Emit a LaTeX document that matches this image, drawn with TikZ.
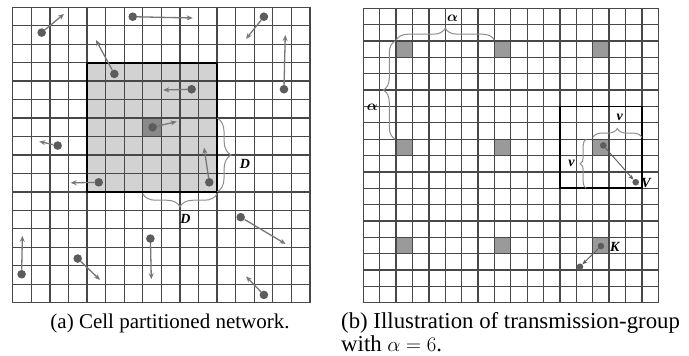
\documentclass[tikz,border=0pt]{standalone}
\usepackage{fontspec}
\setmainfont{Liberation Serif}
\usepackage{amsmath,bm}
\usetikzlibrary{decorations.pathreplacing,arrows.meta}

\definecolor{gridcol}{HTML}{484848}
\definecolor{zonecol}{HTML}{D2D2D2}
\definecolor{homecol}{HTML}{8A8A8A}
\definecolor{groupcol}{HTML}{9A9A9A}
\definecolor{dotcol}{HTML}{5C5C5C}
\definecolor{movecol}{HTML}{777777}
\definecolor{bracecol}{HTML}{8C8C8C}

\tikzset{
  gridlines/.style={draw=gridcol, line width=1.35pt},
  boldframe/.style={draw=black, line width=1.8pt},
  dot/.style={circle, fill=dotcol, inner sep=0pt, minimum size=8.6pt},
  smalldot/.style={circle, fill=dotcol, inner sep=0pt, minimum size=6.6pt},
  move/.style={draw=movecol, line width=1.3pt, -{Stealth[length=6pt,width=5pt]}},
  thinmove/.style={draw=dotcol, line width=0.9pt, -{Stealth[length=5pt,width=4pt]}},
  curly/.style={draw=bracecol, line width=1pt, decorate, decoration={brace, amplitude=#1}},
  lbl/.style={font=\fontsize{14}{14}\selectfont\bfseries\itshape, inner sep=0pt},
  mlbl/.style={font=\fontsize{14}{14}\selectfont, inner sep=0pt},
  caption/.style={font=\fontsize{#1}{23}\selectfont, inner sep=0pt}
}

\begin{document}
\begin{tikzpicture}[x=1pt, y=-1pt]
\useasboundingbox (0,0) rectangle (689,356);

% ---------- (a) cell partitioned network ----------
\begin{scope}[shift={(12.7pt,-7.3pt)}, x=18.58pt, y=-18.46pt]
  \fill[zonecol] (4,3) rectangle (11,10);
  \fill[homecol] (7,6) rectangle (8,7);
  \foreach \i in {0,...,16} {
    \draw[gridlines] (\i,0) -- (\i,16);
    \draw[gridlines] (0,\i) -- (16,\i);
  }
  \draw[boldframe] (4,3) rectangle (11,10);

  % mobile nodes and their moves
  \foreach \n/\x/\y/\tx/\ty in {
      a1/1.56/1.37/2.76/0.36,
      a2/6.46/0.51/9.69/0.58,
      a3/13.52/0.51/12.56/1.71,
      a4/5.47/3.61/4.48/1.77,
      a5/14.6/4.44/14.67/1.5,
      a6/9.63/4.44/8.1/4.48,
      a7/7.53/6.5/8.83/6.19,
      a8/2.42/7.49/1.43/7.27,
      a9/10.58/9.48/10.3/7.6,
      a10/4.63/9.48/3.12/9.51,
      a11/12.27/11.37/14.69/12.82,
      a12/7.41/12.53/7.46/14.73,
      a13/0.48/14.46/0.52/12.38,
      a14/3.5/13.61/4.7/14.77,
      a15/13.52/15.58/12.56/14.58} {
    \node[dot] (\n) at (\x,\y) {};
    \coordinate (\n t) at (\tx,\ty);
    \draw[move] (\n) -- (\n t);
  }

  % range braces
  \coordinate (bra1) at (11,6);
  \coordinate (bra2) at (11,10);
  \draw[curly=14pt] (bra1) -- (bra2);
  \node[lbl] (labDa) at (12.5,8.5) {D};
  \coordinate (brb1) at (11,10.1);
  \coordinate (brb2) at (7,10.1);
  \draw[curly=13pt] (brb1) -- (brb2);
  \node[lbl] (labDb) at (9.3,11.45) {D};
\end{scope}

% ---------- (b) transmission groups ----------
\begin{scope}[shift={(363.3pt,-8.3pt)}, x=16.39pt, y=-16.36pt]
  \foreach \cx in {2,8,14} \foreach \cy in {2,8,14}
    \fill[groupcol] (\cx,\cy) rectangle ++(1,1);
  \foreach \i in {0,...,18} {
    \draw[gridlines] (\i,0) -- (\i,18);
    \draw[gridlines] (0,\i) -- (18,\i);
  }
  \draw[boldframe] (12,6) rectangle (17,11);

  % group spacing braces
  \coordinate (bg1) at (2,1.95);
  \coordinate (bg2) at (8,1.95);
  \draw[curly=12pt] (bg1) -- (bg2);
  \node[mlbl] (labAh) at (5.45,0.6) {$\bm{\alpha}$};
  \coordinate (bg3) at (1.95,8);
  \coordinate (bg4) at (1.95,2);
  \draw[curly=12pt] (bg3) -- (bg4);
  \node[mlbl] (labAv) at (0.55,6.05) {$\bm{\alpha}$};

  % interference range braces
  \coordinate (bv1) at (14,7.9);
  \coordinate (bv2) at (17,7.9);
  \draw[curly=9pt] (bv1) -- (bv2);
  \node[lbl] (labVh) at (15.65,6.65) {v};
  \coordinate (bv3) at (13.6,11);
  \coordinate (bv4) at (13.6,8);
  \draw[curly=6pt] (bv3) -- (bv4);
  \node[lbl] (labVv) at (12.7,9.5) {v};

  % transmitters and receivers
  \node[smalldot] (tx) at (14.64,8.38) {};
  \node[smalldot] (rxV) at (16.62,10.63) {};
  \draw[thinmove] (tx) -- (rxV);
  \node[lbl, anchor=west] (labV) at (16.95,10.66) {V};

  \node[smalldot] (txK) at (14.5,14.53) {};
  \node[smalldot] (rxK) at (13.22,15.8) {};
  \draw[thinmove] (txK) -- (rxK);
  \node[lbl, anchor=west] (labK) at (15.05,14.6) {K};
\end{scope}

% ---------- captions ----------
\node[caption=21, anchor=base] (capA) at (170,328) {(a) Cell partitioned network.};
\node[caption=22.8, anchor=base west] (capB1) at (341,328) {(b) Illustration of transmission-group};
\node[caption=22.8, anchor=base west] (capB2) at (341,351) {with $\alpha=6$.};
\end{tikzpicture}
\end{document}
